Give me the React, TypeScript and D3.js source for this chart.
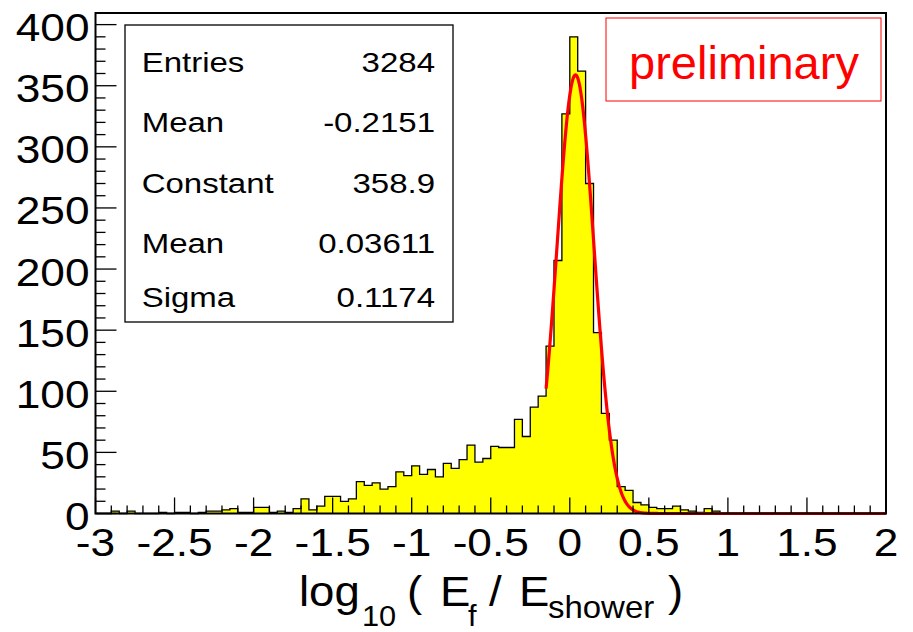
import React from "react";
import * as d3 from "d3";

// ---- data ----
const xLow = -3;
const xHigh = 2;
const nBins = 100;
const counts: number[] = [
  0, 0, 2, 0, 2, 0, 0, 0, 1, 0,
  1, 1, 0, 1, 2, 2, 3, 4, 1, 1,
  5, 5, 1, 2, 1, 4, 12, 3, 6, 14,
  14, 10, 12, 26, 23, 25, 20, 22, 34, 31,
  39, 32, 36, 30, 41, 37, 44, 56, 42, 45,
  55, 54, 54, 77, 63, 87, 96, 137, 207, 327,
  390, 362, 270, 148, 82, 60, 22, 19, 9, 7,
  5, 4, 4, 6, 3, 2, 1, 4, 2, 0,
  0, 0, 0, 0, 0, 0, 0, 0, 0, 0,
  0, 0, 0, 0, 0, 0, 0, 0, 0, 0,
];
const xTickLabels = ["-3", "-2.5", "-2", "-1.5", "-1", "-0.5", "0", "0.5", "1", "1.5", "2"];
const yTickValues = [0, 50, 100, 150, 200, 250, 300, 350, 400];
const statLabels = ["Entries", "Mean", "Constant", "Mean", "Sigma"];
const statValues = ["3284", "-0.2151", "358.9", "0.03611", "0.1174"];
const fitConstant = 358.9;
const fitMean = 0.03611;
const fitSigma = 0.1174;
const fitRange = [-0.15, 2];

const W = 913;
const H = 632;
const FONT = "'Liberation Sans', Arial, Helvetica, sans-serif";

export default function App() {
  const left = 95.5, right = 886, top = 13, bottom = 513.5;
  const yMax = (d3.max(counts) as number) * 1.05;
  const x = d3.scaleLinear().domain([xLow, xHigh]).range([left, right]);
  const y = d3.scaleLinear().domain([0, yMax]).range([bottom, top]);
  const bw = (xHigh - xLow) / nBins;

  // histogram step outline
  const stepPts: [number, number][] = [[xLow, 0]];
  counts.forEach((c, i) => {
    stepPts.push([xLow + i * bw, c]);
    stepPts.push([xLow + (i + 1) * bw, c]);
  });
  stepPts.push([xHigh, 0]);
  const stepLine = d3.line<[number, number]>().x(d => x(d[0])).y(d => y(d[1]));
  const histPath = stepLine(stepPts) as string;

  // fit curve
  const gauss = (v: number) => fitConstant * Math.exp(-0.5 * ((v - fitMean) / fitSigma) ** 2);
  const fitPts: [number, number][] = d3.range(0, 401).map(k => {
    const v = fitRange[0] + (k / 400) * (fitRange[1] - fitRange[0]);
    return [v, gauss(v)];
  });
  const fitPath = d3.line<[number, number]>().x(d => x(d[0])).y(d => y(d[1])).curve(d3.curveLinear)(fitPts) as string;

  const xMinor = d3.range(0, 51).map(k => xLow + k * 0.1);
  const yMinor = d3.range(0, 41).map(k => k * 10).filter(v => v <= yMax);

  const sText = 1.2;
  const sTick = 1.12;

  return (
    <svg width={W} height={H} style={{ position: "absolute", left: 0, top: 0, background: "#fff" }} fontFamily={FONT}>
      <rect x={0} y={0} width={W} height={H} fill="#fff" />
      {/* histogram */}
      <path d={histPath} fill="#ffff00" stroke="#000" strokeWidth={1.3} />
      {/* fit */}
      <path d={fitPath} fill="none" stroke="#ff0000" strokeWidth={3.2} strokeLinejoin="round" />

      {/* frame */}
      <rect x={left} y={top} width={right - left} height={bottom - top} fill="none" stroke="#000" strokeWidth={2} />

      {/* x ticks */}
      {xMinor.map((v, k) => {
        const major = k % 5 === 0;
        return <line key={"xt" + k} x1={x(v)} x2={x(v)} y1={bottom} y2={bottom - (major ? 16 : 8)} stroke="#000" strokeWidth={1.3} />;
      })}
      {/* y ticks */}
      {yMinor.map((v, k) => {
        const major = v % 50 === 0;
        return <line key={"yt" + k} x1={left} x2={left + (major ? 21 : 10)} y1={y(v)} y2={y(v)} stroke="#000" strokeWidth={1.3} />;
      })}

      {/* x labels */}
      {xTickLabels.map((t, i) => (
        <text key={"xl" + i} transform={`translate(${x(xLow + i * 0.5)},556) scale(${sTick},1)`} textAnchor="middle" fontSize={39.5} fill="#000">{t}</text>
      ))}
      {/* y labels */}
      {yTickValues.map((v, i) => (
        <text key={"yl" + i} transform={`translate(89.5,${y(v) + 16.5}) scale(${sTick},1)`} textAnchor="end" fontSize={39.5} fill="#000">{String(v)}</text>
      ))}

      {/* x title */}
      <g fill="#000">
        <text transform="translate(299,606) scale(1.06,1)" fontSize={43}>log</text>
        <text transform="translate(362,626) scale(1.06,1)" fontSize={29}>10</text>
        <text transform="translate(407,606) scale(1.06,1)" fontSize={43}>(</text>
        <text transform="translate(440,606) scale(1.06,1)" fontSize={43}>E</text>
        <text transform="translate(468,626) scale(1.06,1)" fontSize={29}>f</text>
        <text transform="translate(489,606) scale(1.06,1)" fontSize={43}>/</text>
        <text transform="translate(519,606) scale(1.06,1)" fontSize={43}>E</text>
        <text transform="translate(548,618) scale(1.03,1)" fontSize={32}>shower</text>
        <text transform="translate(668,606) scale(1.06,1)" fontSize={43}>)</text>
      </g>

      {/* stats box */}
      <rect x={125} y={25} width={328} height={297} fill="#fff" stroke="#000" strokeWidth={1.3} />
      {statLabels.map((s, i) => {
        const by = [72, 132, 193, 253, 307][i];
        return (
          <g key={"st" + i}>
            <text transform={`translate(141.7,${by}) scale(${sText},1)`} fontSize={27.5} fill="#000">{s}</text>
            <text transform={`translate(435,${by}) scale(${sText},1)`} textAnchor="end" fontSize={27.5} fill="#000">{statValues[i]}</text>
          </g>
        );
      })}

      {/* preliminary box */}
      <rect x={606} y={18} width={275} height={83} fill="#fff" stroke="#ff0000" strokeWidth={1} />
      <text x={744} y={78.5} textAnchor="middle" fontSize={47} fill="#ff0000">preliminary</text>
    </svg>
  );
}
